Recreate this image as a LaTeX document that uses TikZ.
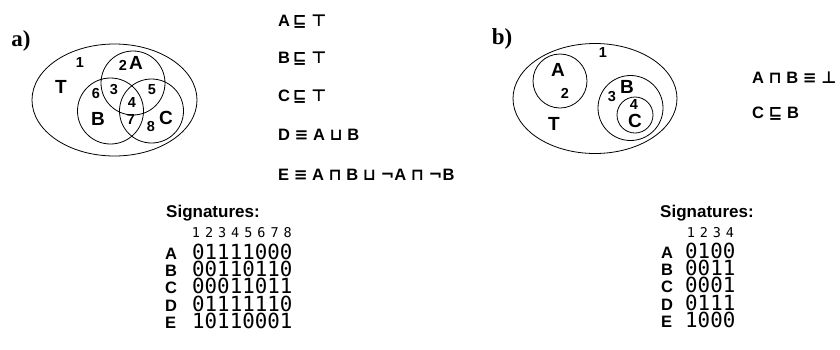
\documentclass[tikz,border=0pt]{standalone}
\usepackage{fontspec}
\setmainfont{Liberation Sans}
\newfontfamily\symfont{DejaVu Sans}
\newfontfamily\digitfont{DejaVu Sans Mono}
\newfontfamily\panelfont{Liberation Serif}

% description-logic symbols
\newcommand\dlsym[1]{{\symfont\fontsize{16.5}{16.5}\selectfont #1}}
\newcommand\dlsub{\dlsym{⊑}}
\newcommand\dltop{\dlsym{⊤}}
\newcommand\dlbot{\dlsym{⊥}}
\newcommand\dleq{\dlsym{≡}}
\newcommand\dland{\dlsym{⊓}}
\newcommand\dlor{\dlsym{⊔}}
\newcommand\dlnot{\dlsym{¬}}

\tikzset{
  setline/.style={draw=black, line width=0.8pt},
  panel/.style={font=\panelfont\bfseries\fontsize{23}{23}\selectfont, inner sep=0pt},
  setname/.style={font=\bfseries\fontsize{19}{19}\selectfont, inner sep=0pt},
  region/.style={font=\bfseries\fontsize{14.5}{14.5}\selectfont, inner sep=0pt},
  axiom/.style={font=\bfseries\fontsize{16.5}{16.5}\selectfont, inner sep=0pt, anchor=base west},
  sighead/.style={font=\bfseries\fontsize{17}{17}\selectfont, inner sep=0pt, anchor=base west},
  colnum/.style={font=\digitfont\fontsize{13.5}{13.5}\selectfont, inner sep=0pt, anchor=base},
  rowname/.style={font=\bfseries\fontsize{16.5}{16.5}\selectfont, inner sep=0pt, anchor=base west,
                  text height=12pt, text depth=0pt},
  bits/.style={font=\digitfont\fontsize{20.8}{20.8}\selectfont, inner sep=0pt, anchor=base west,
               text height=15pt, text depth=0pt},
}

\begin{document}
\begin{tikzpicture}[x=1pt,y=-1pt]
\useasboundingbox (0,0) rectangle (840,349);
\fill[white] (0,0) rectangle (840,349);

% ---------------- panel a: Venn diagram of A, B, C inside T
\node[panel] (pa) at (21,41) {a)};
\draw[setline] (114.5,100) ellipse [x radius=82.5, y radius=56];
\draw[setline] (133,83) circle [radius=32];
\draw[setline] (110.5,111) circle [radius=33];
\draw[setline] (151.5,111) circle [radius=32];

\node[region]  (a1) at (80,63)  {1};
\node[setname] (aT) at (61,87)  {T};
\node[region]  (a2) at (123,65) {2};
\node[setname] (aA) at (136,63) {A};
\node[region]  (a6) at (96,94)  {6};
\node[region]  (a3) at (114,90) {3};
\node[region]  (a5) at (152,90) {5};
\node[region]  (a4) at (132,103) {4};
\node[setname] (aB) at (98,119) {B};
\node[region]  (a7) at (131,120) {7};
\node[region]  (a8) at (151,127) {8};
\node[setname] (aC) at (166,118) {C};

% axioms of panel a
\node[axiom] (ax1) at (278,26)  {A\,\dlsub\ \dltop};
\node[axiom] (ax2) at (278,63)  {B\,\dlsub\ \dltop};
\node[axiom] (ax3) at (278,101) {C\,\dlsub\ \dltop};
\node[axiom] (ax4) at (278,140) {D \dleq\ A \dlor\ B};
\node[axiom] (ax5) at (278,180) {E \dleq\ A \dland\ B \dlor\ \dlnot A \dland\ \dlnot B};

% signatures of panel a
\node[sighead] (sa) at (166,217) {Signatures:};
\foreach \d [count=\i from 0] in {1,...,8}
  \node[colnum] (ha\d) at (196+13.1*\i,237) {\d};
\foreach \n/\b/\y in {A/01111000/259, B/00110110/276, C/00011011/293.5, D/01111110/311, E/10110001/328}{
  \node[rowname] (ra\n) at (165,\y) {\n};
  \node[bits]    (ba\n) at (192,\y) {\b};
}

% ---------------- panel b: disjoint A, C nested in B
\node[panel] (pb) at (502,39) {b)};
\draw[setline] (595,98.5) ellipse [x radius=82, y radius=55];
\draw[setline] (560,81) circle [radius=27];
\draw[setline] (630.5,108) circle [radius=32.5];
\draw[setline] (635,115) circle [radius=18];

\node[region]  (b1) at (603,53)  {1};
\node[setname] (bA) at (558,70)  {A};
\node[region]  (b2) at (565,93)  {2};
\node[setname] (bT) at (554,124) {T};
\node[setname] (bB) at (627,87)  {B};
\node[region]  (b3) at (612,97)  {3};
\node[region]  (b4) at (634,105) {4};
\node[setname] (bC) at (635,121) {C};

% axioms of panel b
\node[axiom] (bx1) at (752,83)  {A \dland\ B \dleq\ \dlbot};
\node[axiom] (bx2) at (752,118) {C \dlsub\ B};

% signatures of panel b
\node[sighead] (sb) at (660,217) {Signatures:};
\foreach \d [count=\i from 0] in {1,...,4}
  \node[colnum] (hb\d) at (691+13*\i,237) {\d};
\foreach \n/\b/\y in {A/0100/258, B/0011/275, C/0001/292.5, D/0111/310, E/1000/327}{
  \node[rowname] (rb\n) at (661,\y) {\n};
  \node[bits]    (bb\n) at (685,\y) {\b};
}
\end{tikzpicture}
\end{document}
